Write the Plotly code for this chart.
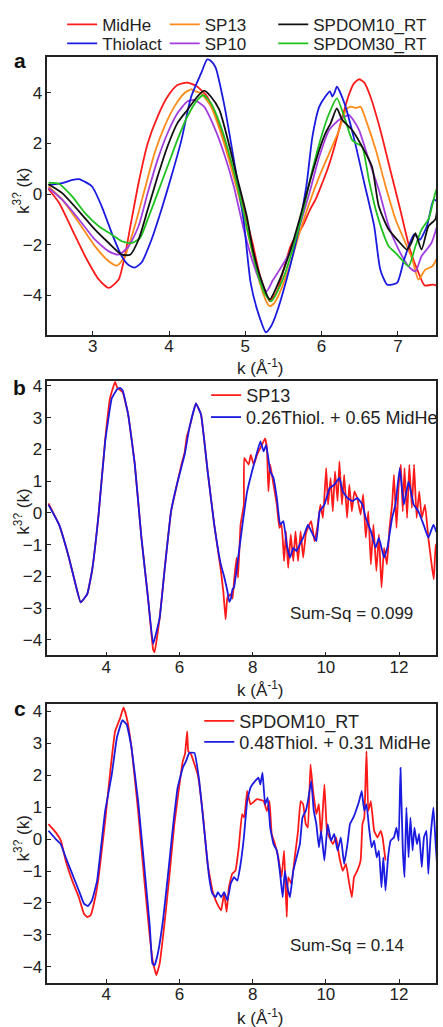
import plotly.graph_objects as go

# ---------------- Panel a data ----------------
ka_midhe = [2.42, 2.56, 2.73, 2.9, 3.08, 3.21, 3.34, 3.42, 3.51, 3.6, 3.72, 3.85, 3.98, 4.11, 4.24, 4.37, 4.5, 4.63, 4.76, 4.89,
            5.0, 5.1, 5.2, 5.32, 5.42, 5.5, 5.6, 5.75, 5.85, 5.92, 6.0, 6.08, 6.17, 6.26, 6.35, 6.42, 6.49, 6.56, 6.64, 6.77,
            6.9, 7.03, 7.16, 7.27, 7.35, 7.46, 7.52]
va_midhe = [0.2, -0.35, -1.4, -2.45, -3.37, -3.7, -3.37, -2.45, -1.0, 0.43, 2.0, 3.06, 3.84, 4.3, 4.4, 4.24, 3.84, 2.93, 1.75, 0.43,
            -0.8, -2.0, -3.3, -4.22, -3.8, -3.0, -2.0, -1.27, -0.6, -0.22, 0.37, 1.0, 1.88, 2.9, 3.85, 4.35, 4.53, 4.4, 3.85, 2.53,
            0.96, -0.6, -2.2, -3.1, -3.6, -3.57, -3.62]

ka_thiol = [2.42, 2.6, 2.72, 2.82, 2.99, 3.12, 3.25, 3.38, 3.47, 3.55, 3.64, 3.77, 3.9, 4.03, 4.16, 4.29, 4.42, 4.5, 4.55, 4.61,
            4.72, 4.85, 4.98, 5.07, 5.17, 5.27, 5.34, 5.41, 5.54, 5.67, 5.8, 5.88, 5.97, 6.05, 6.11, 6.14, 6.17, 6.2, 6.3, 6.43,
            6.56, 6.69, 6.77, 6.86, 6.99, 7.08, 7.21, 7.26, 7.29, 7.38, 7.47, 7.52]
va_thiol = [0.36, 0.43, 0.55, 0.59, 0.3, -0.5, -1.54, -2.45, -2.8, -2.9, -2.7, -1.8, -0.62, 0.69, 2.1, 3.84, 4.76, 5.31, 5.25, 5.0,
            3.58, 1.35, -1.1, -3.5, -4.7, -5.45, -5.2, -4.69, -3.38, -1.8, 0.3, 2.27, 3.45, 3.85, 4.05, 3.85, 4.0, 4.24, 3.58, 2.14,
            0.43, -1.27, -2.98, -3.57, -3.5, -2.6, -1.6, -1.7, -1.8, -1.27, -0.22, -0.3]

ka_sp13 = [2.42, 2.6, 2.82, 3.03, 3.21, 3.32, 3.42, 3.55, 3.68, 3.81, 3.94, 4.07, 4.2, 4.29, 4.35, 4.42, 4.55, 4.68, 4.81, 4.94,
           5.0, 5.1, 5.2, 5.27, 5.32, 5.38, 5.45, 5.58, 5.71, 5.84, 5.97, 6.1, 6.23, 6.32, 6.38, 6.45, 6.51, 6.58, 6.71, 6.84,
           6.97, 7.1, 7.19, 7.27, 7.36, 7.45, 7.52]
va_sp13 = [0.3, -0.22, -1.14, -2.06, -2.65, -2.82, -2.45, -1.27, 0.17, 1.61, 2.66, 3.45, 3.98, 4.13, 4.05, 3.98, 3.45, 2.4, 1.09, -0.35,
           -1.1, -2.4, -3.6, -4.2, -4.42, -4.3, -3.9, -2.85, -1.54, -0.35, 0.7, 1.61, 2.53, 3.32, 3.45, 3.4, 3.45, 2.93, 1.75, 0.3,
           -1.0, -1.93, -2.58, -3.37, -2.98, -2.85, -2.5]

ka_sp10 = [2.42, 2.6, 2.82, 3.03, 3.21, 3.34, 3.47, 3.6, 3.72, 3.85, 3.98, 4.11, 4.24, 4.33, 4.46, 4.59, 4.72, 4.85, 4.98, 5.1,
           5.2, 5.28, 5.36, 5.45, 5.58, 5.71, 5.84, 5.97, 6.1, 6.23, 6.36, 6.42, 6.49, 6.62, 6.75, 6.88, 7.01, 7.14, 7.23, 7.31,
           7.44, 7.52]
va_sp10 = [0.24, -0.22, -1.0, -1.8, -2.26, -2.39, -2.06, -1.27, 0.04, 1.35, 2.4, 3.19, 3.65, 3.71, 3.45, 2.66, 1.61, 0.3, -1.4, -2.7,
           -3.5, -3.83, -3.4, -2.98, -2.32, -1.27, 0.04, 1.48, 2.53, 2.93, 3.12, 2.9, 2.53, 1.35, 0.17, -1.27, -2.19, -2.85, -3.05, -2.45,
           -1.93, -1.2]

ka_dom10 = [2.42, 2.6, 2.82, 3.03, 3.21, 3.38, 3.49, 3.6, 3.72, 3.85, 3.98, 4.11, 4.24, 4.37, 4.46, 4.55, 4.66, 4.76, 4.89, 5.02,
            5.1, 5.2, 5.32, 5.45, 5.58, 5.71, 5.84, 5.97, 6.05, 6.12, 6.2, 6.27, 6.4, 6.53, 6.66, 6.75, 6.88, 7.01, 7.12, 7.18,
            7.23, 7.31, 7.4, 7.49, 7.52]
va_dom10 = [0.39, 0.04, -0.68, -1.4, -1.93, -2.39, -2.39, -1.8, -0.62, 0.69, 1.88, 2.8, 3.32, 3.84, 4.08, 3.84, 3.32, 2.27, 0.69, -0.88,
            -2.2, -3.3, -4.15, -3.38, -2.32, -1.0, 0.43, 1.75, 2.4, 2.8, 3.38, 2.93, 2.53, 1.88, 1.09, -0.48, -1.4, -1.86, -2.19, -1.9,
            -1.54, -2.19, -1.27, -1.0, -0.48]

ka_dom30 = [2.42, 2.56, 2.73, 2.9, 3.08, 3.25, 3.38, 3.51, 3.62, 3.72, 3.85, 3.98, 4.11, 4.24, 4.37, 4.45, 4.55, 4.68, 4.81, 4.94,
            5.05, 5.15, 5.25, 5.34, 5.49, 5.62, 5.75, 5.88, 6.01, 6.1, 6.2, 6.31, 6.4, 6.46, 6.53, 6.62, 6.71, 6.79, 6.88, 6.97,
            7.05, 7.14, 7.23, 7.31, 7.4, 7.49, 7.52]
va_dom30 = [0.45, 0.4, -0.09, -0.75, -1.27, -1.6, -1.86, -1.93, -1.73, -1.0, 0.04, 1.09, 2.14, 3.06, 3.71, 3.9, 3.58, 2.66, 1.35, -0.22,
            -1.7, -3.0, -3.9, -4.22, -3.38, -2.19, -0.75, 0.96, 2.4, 3.19, 3.78, 2.93, 2.14, 2.0, 1.88, 0.56, -0.62, -1.4, -2.06, -2.32,
            -2.58, -2.85, -2.06, -1.4, -1.0, 0.04, 0.3]

# ---------------- Panel b data ----------------
kb_sp13 = [2.42, 2.71, 2.98, 3.16, 3.3, 3.48, 3.61, 3.79, 3.97, 4.1, 4.2, 4.24, 4.3, 4.45, 4.6, 4.78, 4.96, 5.14, 5.28, 5.32,
           5.46, 5.59, 5.77, 5.95, 6.05, 6.14, 6.2, 6.27, 6.45, 6.59, 6.77, 6.95, 7.13, 7.2, 7.26, 7.31, 7.4, 7.45, 7.5, 7.56,
           7.6, 7.67, 7.76, 7.77, 7.89, 7.95, 8.03, 8.12, 8.25, 8.34, 8.39, 8.43, 8.48, 8.57, 8.66, 8.73, 8.79, 8.86, 8.91, 8.97,
           9.04, 9.11, 9.17, 9.24, 9.31, 9.38, 9.45, 9.51, 9.6, 9.69, 9.78, 9.85, 9.92, 10.01, 10.06, 10.13, 10.19, 10.25, 10.32, 10.37,
           10.44, 10.5, 10.58, 10.64, 10.71, 10.78, 10.86, 10.95, 11.02, 11.09, 11.16, 11.23, 11.3, 11.38, 11.45, 11.52, 11.59, 11.67, 11.74, 11.81,
           11.86, 11.93, 11.99, 12.05, 12.1, 12.15, 12.22, 12.28, 12.35, 12.41, 12.48, 12.55, 12.62, 12.71, 12.8, 12.89, 12.95, 13.0, 13.05]
vb_sp13 = [0.3, -0.37, -1.41, -2.25, -2.82, -2.56, -1.83, -0.05, 2.3, 3.6, 4.0, 4.13, 3.95, 3.8, 3.09, 1.52, -0.78, -2.67, -4.3, -4.39,
           -3.3, -1.83, 0.05, 0.99, 1.5, 1.9, 2.4, 2.67, 3.45, 3.09, 1.31, -0.37, -1.8, -2.5, -3.35, -2.67, -2.56, -2.7, -2.04, -1.41,
           -2.04, -0.37, 0.26, 1.73, 1.52, 1.83, 1.52, 1.83, 2.14, 2.35, 2.04, 0.68, 1.52, 0.89, 0.26, -0.47, -0.37, -1.52, -0.58, -1.73,
           -0.68, -1.52, -0.58, -1.52, -0.58, -1.41, -0.68, -0.47, -0.26, -0.89, -0.37, 0.26, -0.16, 1.41, 0.26, 1.1, 0.05, 1.31, 0.37, 1.62,
           0.26, 1.2, -0.16, 0.89, 0.05, 0.68, 0.47, -0.05, 0.58, -0.78, 0.05, -1.62, -0.37, -1.83, -0.68, -2.35, -1.1, -1.62, -0.47, 0.26,
           1.2, -0.47, 0.89, 1.52, 0.05, 1.41, -0.16, 1.52, 0.16, 1.52, -0.16, 0.68, -0.16, 0.26, -0.78, -1.62, -2.09, -0.99, -1.41]

kb_fit = [2.42, 2.71, 2.98, 3.16, 3.3, 3.48, 3.61, 3.79, 3.97, 4.15, 4.3, 4.38, 4.45, 4.6, 4.78, 4.96, 5.14, 5.28, 5.46, 5.59,
          5.77, 5.95, 6.14, 6.27, 6.45, 6.59, 6.77, 6.95, 7.13, 7.22, 7.31, 7.36, 7.4, 7.45, 7.49, 7.58, 7.71, 7.85, 8.03, 8.21,
          8.3, 8.37, 8.48, 8.57, 8.66, 8.75, 8.84, 8.93, 9.02, 9.11, 9.2, 9.29, 9.38, 9.51, 9.6, 9.74, 9.83, 9.96, 10.1, 10.23,
          10.37, 10.46, 10.59, 10.73, 10.86, 11.0, 11.09, 11.23, 11.36, 11.45, 11.59, 11.68, 11.81, 11.9, 12.02, 12.13, 12.26, 12.4, 12.53, 12.67,
          12.8, 12.94, 13.02]
vb_fit = [0.26, -0.37, -1.41, -2.25, -2.82, -2.56, -1.83, -0.05, 2.25, 3.61, 3.9, 3.94, 3.85, 3.09, 1.52, -0.78, -2.67, -4.13, -3.3, -1.83,
          0.05, 0.99, 1.83, 2.67, 3.45, 3.09, 1.31, -0.37, -1.62, -2.0, -2.46, -2.8, -2.72, -2.4, -2.35, -1.62, -0.47, 0.68, 1.52, 2.25,
          1.94, 2.14, 1.31, 1.1, 0.47, -0.37, -0.26, -0.99, -1.41, -1.1, -1.2, -0.99, -0.78, -0.37, -0.58, -0.89, 0.05, 0.26, 0.78, 0.89,
          1.1, 0.68, 0.47, 0.37, 0.47, 0.26, -0.16, -0.58, -1.1, -0.78, -1.41, -1.1, -0.16, 0.26, 1.41, 0.26, 0.99, 0.26, 0.05, -0.37,
          -0.78, -0.37, -0.6]

# ---------------- Panel c data ----------------
kc_dom10 = [2.42, 2.62, 2.76, 2.89, 3.07, 3.25, 3.39, 3.48, 3.57, 3.7, 3.79, 3.97, 4.11, 4.24, 4.38, 4.47, 4.56, 4.69, 4.87, 5.05,
            5.19, 5.28, 5.37, 5.46, 5.59, 5.73, 5.86, 6.0, 6.09, 6.15, 6.21, 6.24, 6.32, 6.41, 6.5, 6.63, 6.77, 6.9, 6.99, 7.08,
            7.14, 7.22, 7.29, 7.35, 7.44, 7.53, 7.62, 7.71, 7.77, 7.85, 7.94, 8.12, 8.3, 8.39, 8.46, 8.52, 8.61, 8.7, 8.79, 8.86,
            8.93, 8.97, 9.06, 9.15, 9.24, 9.31, 9.38, 9.45, 9.51, 9.58, 9.65, 9.74, 9.81, 9.87, 9.96, 10.03, 10.1, 10.19, 10.28, 10.37,
            10.46, 10.55, 10.64, 10.71, 10.77, 10.86, 10.95, 11.0, 11.05, 11.11, 11.16, 11.23, 11.32, 11.41, 11.5, 11.55, 11.63]
vc_dom10 = [0.47, 0.21, -0.05, -0.67, -1.3, -1.82, -2.34, -2.44, -2.39, -1.82, -1.19, 0.57, 2.13, 3.37, 3.79, 4.12, 3.79, 2.86, 0.88, -1.4,
            -3.06, -3.89, -4.26, -3.89, -2.65, -1.09, 0.47, 1.71, 2.44, 2.65, 3.37, 2.75, 2.65, 2.34, 2.02, 0.88, -0.78, -1.61, -1.92, -2.13,
            -2.23, -1.71, -2.28, -1.51, -1.09, -0.99, -0.26, 0.78, 0.67, 1.51, 1.09, 1.25, 1.19, 0.88, 1.19, 0.16, -0.16, -0.57, -1.19, -0.36,
            -2.44, -1.19, -1.4, -0.57, 0.26, 1.19, 1.09, 0.47, 0.36, 2.34, 1.51, 0.78, 1.09, 0.05, 1.71, 0.26, 0.05, -0.16, 0.05, -0.57,
            -0.99, -0.78, -1.4, -1.82, -1.19, -0.99, -0.67, 0.47, 0.67, 2.75, 0.88, 1.19, 0.26, 0.05, 0.26, 0.05, -0.67]

kc_fit = [2.42, 2.62, 2.76, 2.89, 3.07, 3.25, 3.39, 3.5, 3.61, 3.75, 3.97, 4.15, 4.29, 4.44, 4.56, 4.69, 4.87, 5.05, 5.19, 5.26,
          5.32, 5.41, 5.55, 5.68, 5.82, 5.95, 6.09, 6.18, 6.27, 6.41, 6.54, 6.68, 6.81, 6.9, 6.99, 7.05, 7.14, 7.22, 7.31, 7.4,
          7.49, 7.58, 7.67, 7.76, 7.85, 7.94, 8.07, 8.16, 8.21, 8.27, 8.34, 8.41, 8.48, 8.57, 8.66, 8.75, 8.82, 8.88, 8.95, 9.02,
          9.11, 9.2, 9.29, 9.36, 9.45, 9.51, 9.6, 9.67, 9.74, 9.81, 9.87, 9.96, 10.05, 10.14, 10.23, 10.32, 10.41, 10.5, 10.59, 10.66,
          10.75, 10.82, 10.91, 10.98, 11.05, 11.11, 11.18, 11.25, 11.32, 11.39, 11.45, 11.52, 11.57, 11.63, 11.7, 11.77, 11.86, 11.93, 11.99, 12.04,
          12.1, 12.15, 12.2, 12.26, 12.31, 12.37, 12.42, 12.49, 12.55, 12.62, 12.68, 12.75, 12.8, 12.86, 12.94, 13.0, 13.05]
vc_fit = [0.26, 0.0, -0.16, -0.57, -1.09, -1.61, -2.02, -2.1, -1.92, -1.3, 0.88, 2.02, 3.17, 3.72, 3.58, 2.86, 1.19, -0.99, -2.75, -3.89,
          -3.95, -3.58, -2.54, -1.19, 0.36, 1.61, 2.23, 2.44, 2.7, 2.7, 1.82, 0.26, -1.19, -1.71, -1.82, -1.66, -1.82, -1.66, -1.92, -1.4,
          -1.19, -1.3, -0.78, 0.05, 1.19, 1.61, 1.82, 1.92, 1.71, 2.08, 1.09, 1.3, 0.36, -0.16, -0.36, -1.09, -1.82, -0.99, -1.51, -1.82,
          -0.99, -0.57, -0.16, 0.67, 0.88, 1.19, 1.82, 0.88, 0.47, -0.26, 0.26, -0.67, 0.47, -0.05, 0.16, -0.36, 0.05, -0.78, -0.16, 0.47,
          0.67, 0.88, 1.19, 1.51, 0.88, 1.09, 0.36, -0.26, -0.05, -0.57, -0.36, -1.51, -0.57, -1.61, -0.57, -0.05, 0.05, 0.36, -0.05, 2.23,
          -0.26, -1.19, 0.99, -0.57, 0.67, -0.36, 0.36, -0.16, 0.16, -0.88, 0.05, 0.26, -1.09, 0.05, 0.99, -0.16, -0.99]

# labels
names_a = ["MidHe", "Thiolact", "SP13", "SP10", "SPDOM10_RT", "SPDOM30_RT"]
name_b = ["SP13", "0.26Thiol. + 0.65 MidHe"]
name_c = ["SPDOM10_RT", "0.48Thiol. + 0.31 MidHe"]
sumsq_b = "Sum-Sq = 0.099"
sumsq_c = "Sum-Sq = 0.14"
xticks_a = [3, 4, 5, 6, 7]
xticks_bc = [4, 6, 8, 10, 12]
yticks_a = [-4, -2, 0, 2, 4]
yticks_bc = [-4, -3, -2, -1, 0, 1, 2, 3, 4]

W, H = 443, 1027
def px(x):
    return x / W
def py(y):
    return 1 - y / H

FONT = "Liberation Sans, Arial, sans-serif"
RED, BLUE = "#ff1a1a", "#1a1ae0"
ORANGE, PURPLE, BLACK, GREEN = "#ff8c1a", "#a23ee0", "#111111", "#1fc21f"

fig = go.Figure()

series_a = [
    (ka_midhe, va_midhe, names_a[0], RED, "legend"),
    (ka_sp13, va_sp13, names_a[2], ORANGE, "legend2"),
    (ka_sp10, va_sp10, names_a[3], PURPLE, "legend5"),
    (ka_thiol, va_thiol, names_a[1], BLUE, "legend4"),
    (ka_dom30, va_dom30, names_a[5], GREEN, "legend6"),
    (ka_dom10, va_dom10, names_a[4], BLACK, "legend3"),
]
for k, v, nm, col, lg in series_a:
    assert len(k) == len(v), nm
    fig.add_trace(go.Scatter(x=k, y=v, name=nm, mode="lines", xaxis="x", yaxis="y",
                             line=dict(color=col, width=1.8, shape="spline", smoothing=0.6),
                             legend=lg, showlegend=True))

series_b = [(kb_sp13, vb_sp13, name_b[0], RED, "legend7"), (kb_fit, vb_fit, name_b[1], BLUE, "legend8")]
for k, v, nm, col, lg in series_b:
    assert len(k) == len(v), nm
    fig.add_trace(go.Scatter(x=k, y=v, name=nm, mode="lines", xaxis="x2", yaxis="y2",
                             line=dict(color=col, width=1.8, shape="spline", smoothing=0.3),
                             legend=lg, showlegend=True))

series_c = [(kc_dom10, vc_dom10, name_c[0], RED, "legend9"), (kc_fit, vc_fit, name_c[1], BLUE, "legend10")]
for k, v, nm, col, lg in series_c:
    assert len(k) == len(v), nm
    fig.add_trace(go.Scatter(x=k, y=v, name=nm, mode="lines", xaxis="x3", yaxis="y3",
                             line=dict(color=col, width=1.8, shape="spline", smoothing=0.3),
                             legend=lg, showlegend=True))

ax = dict(showline=True, linecolor="#222", linewidth=1.6, mirror=True, ticks="inside", ticklen=4,
          tickwidth=1.3, tickcolor="#222", showgrid=False, zeroline=False,
          tickfont=dict(family=FONT, size=17, color="#222"))
axx = dict(ax, ticklabelstandoff=-5)

xdom = [px(48), px(442)]
layout = dict(
    width=W, height=H, margin=dict(l=0, r=0, t=0, b=0), showlegend=True,
    paper_bgcolor="white", plot_bgcolor="white", font=dict(family=FONT, color="#222"),
    xaxis=dict(axx, domain=xdom, range=[2.405, 7.50], tickvals=xticks_a, anchor="y"),
    yaxis=dict(ax, domain=[py(332), py(53)], range=[-5.547, 5.417], tickvals=yticks_a, anchor="x"),
    xaxis2=dict(axx, domain=xdom, range=[2.39, 13.01], tickvals=xticks_bc, anchor="y2"),
    yaxis2=dict(ax, domain=[py(654), py(378)], range=[-4.49, 4.17], tickvals=yticks_bc, anchor="x2"),
    xaxis3=dict(axx, domain=xdom, range=[2.39, 13.01], tickvals=xticks_bc, anchor="y3"),
    yaxis3=dict(ax, domain=[py(983), py(703)], range=[-4.51, 4.22], tickvals=yticks_bc, anchor="x3"),
)

def leg(xl, yc, size):
    return dict(x=px(xl), y=py(yc), xanchor="left", yanchor="middle", bgcolor="rgba(0,0,0,0)",
                font=dict(family=FONT, size=size, color="#222"), itemwidth=30, orientation="v",
                visible=True)

layout["legend"] = leg(63, 21, 17)
layout["legend2"] = leg(167, 21, 17)
layout["legend3"] = leg(277, 21, 17)
layout["legend4"] = leg(63, 40, 17)
layout["legend5"] = leg(167, 40, 17)
layout["legend6"] = leg(277, 40, 17)
layout["legend7"] = leg(209, 393, 18)
layout["legend8"] = leg(209, 415, 18)
layout["legend9"] = leg(202, 720, 18)
layout["legend10"] = leg(202, 741, 18)

fig.update_layout(**layout)

ann = []
for lab, y in [("a", 57), ("b", 385), ("c", 707)]:
    ann.append(dict(text="<b>%s</b>" % lab, x=px(20), y=py(y), xref="paper", yref="paper",
                    xanchor="center", yanchor="middle", showarrow=False,
                    font=dict(family=FONT, size=21, color="#111")))
for y in [188, 510, 838]:
    ann.append(dict(text="k<sup>3?</sup> (k)", x=px(22), y=py(y), xref="paper", yref="paper",
                    xanchor="center", yanchor="middle", textangle=-90, showarrow=False,
                    font=dict(family=FONT, size=17, color="#222")))
for y in [364, 688, 1017]:
    ann.append(dict(text="k (Å<sup>-1</sup>)", x=px(264), y=py(y), xref="paper", yref="paper",
                    xanchor="center", yanchor="middle", showarrow=False,
                    font=dict(family=FONT, size=17, color="#222")))
ann.append(dict(text=sumsq_b, x=px(292), y=py(612), xref="paper", yref="paper", xanchor="left",
                yanchor="middle", showarrow=False, font=dict(family=FONT, size=17, color="#222")))
ann.append(dict(text=sumsq_c, x=px(292), y=py(945), xref="paper", yref="paper", xanchor="left",
                yanchor="middle", showarrow=False, font=dict(family=FONT, size=17, color="#222")))
fig.update_layout(annotations=ann)

fig.write_html("out.html", config={"displayModeBar": False},
               post_script="document.body.style.margin='0';document.body.style.padding='0';"
                           "document.body.style.overflow='hidden';"
                           "document.documentElement.style.overflow='hidden';")
